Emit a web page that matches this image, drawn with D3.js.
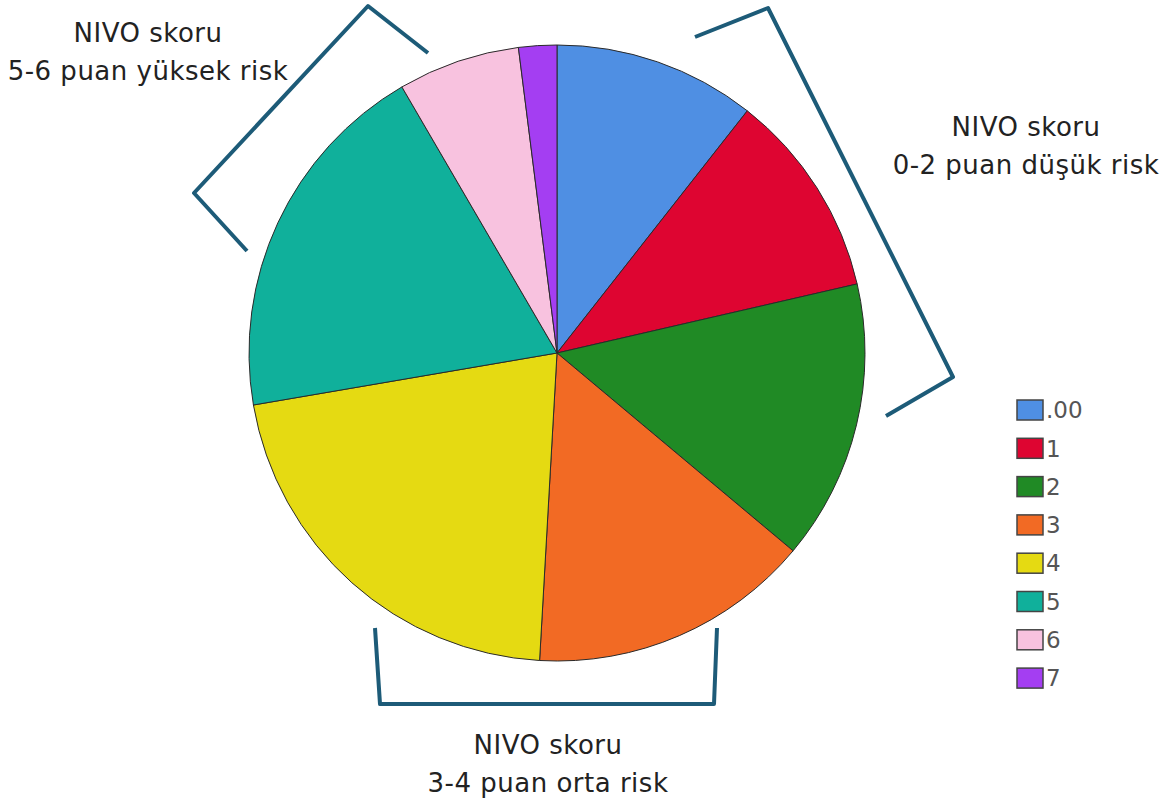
<!DOCTYPE html>
<html>
<head>
<meta charset="utf-8">
<script src="https://cdn.jsdelivr.net/npm/d3@7"></script>
<style>
  body { margin: 0; background: #fff; }
  svg text { font-family: "DejaVu Sans", "Open Sans", sans-serif; }
</style>
</head>
<body>
<svg id="chart" width="1168" height="800"></svg>
<script>
// NIVO score distribution (percent of patients)
var categories = ['.00', '1', '2', '3', '4', '5', '6', '7'];
var shares = [10.6, 10.8, 14.7, 14.8, 21.4, 19.3, 6.4, 2.0];
var sliceColors = ['#4f8fe3', '#de0531', '#208a25', '#f26a24', '#e5da12', '#10b09b', '#f8c2df', '#a43ef2'];

// risk group labels
var groupLabels = [
    ['NIVO skoru', '5-6 puan yüksek risk'],
    ['NIVO skoru', '0-2 puan düşük risk'],
    ['NIVO skoru', '3-4 puan orta risk']
];

var svg = d3.select('#chart'),
    cx = 557, cy = 353, radius = 308;

var color = d3.scaleOrdinal().domain(categories).range(sliceColors);

var pie = d3.pie().sort(null).value(function(d) { return d.v; });
var arc = d3.arc().innerRadius(0).outerRadius(radius);

var data = categories.map(function(c, i) { return {k: c, v: shares[i]}; });

var g = svg.append('g').attr('transform', 'translate(' + cx + ',' + cy + ')');

g.selectAll('path')
    .data(pie(data))
    .enter().append('path')
    .attr('d', arc)
    .attr('fill', function(d) { return color(d.data.k); })
    .attr('stroke', '#2a2a2a')
    .attr('stroke-width', 1);

/**
 * brackets around the risk groups
 */
var brackets = [
    [[428, 53], [368, 6], [194, 193], [247, 251]],
    [[695, 37], [768, 8], [953, 377], [886, 416]],
    [[375, 628], [380, 704], [714, 704], [717, 628]]
];
var line = d3.line();
svg.selectAll('path.bracket')
    .data(brackets)
    .enter().append('path')
    .attr('class', 'bracket')
    .attr('d', line)
    .attr('fill', 'none')
    .attr('stroke', '#1d5b78')
    .attr('stroke-width', 4)
    .attr('stroke-linejoin', 'round');

var labelPos = [[148, 33], [1026, 127], [548, 745]];
groupLabels.forEach(function(lines, i) {
    var t = svg.append('text')
        .attr('x', labelPos[i][0])
        .attr('y', labelPos[i][1])
        .attr('text-anchor', 'middle')
        .attr('font-size', 26)
        .attr('letter-spacing', 0.5)
        .attr('fill', '#222');
    lines.forEach(function(s, j) {
        t.append('tspan')
            .attr('x', labelPos[i][0])
            .attr('dy', j === 0 ? '0.35em' : 38)
            .text(s);
    });
});

// legend
var legend = svg.append('g').attr('transform', 'translate(1017,400)');
var item = legend.selectAll('g')
    .data(categories)
    .enter().append('g')
    .attr('transform', function(d, i) { return 'translate(0,' + i * 38.3 + ')'; });

item.append('rect')
    .attr('width', 26)
    .attr('height', 20)
    .attr('fill', function(d) { return color(d); })
    .attr('stroke', '#444')
    .attr('stroke-width', 1.5);

item.append('text')
    .attr('x', 29)
    .attr('y', 10)
    .attr('dy', '0.36em')
    .attr('font-size', 23)
    .attr('fill', '#555')
    .text(function(d) { return d; });
</script>
</body>
</html>
